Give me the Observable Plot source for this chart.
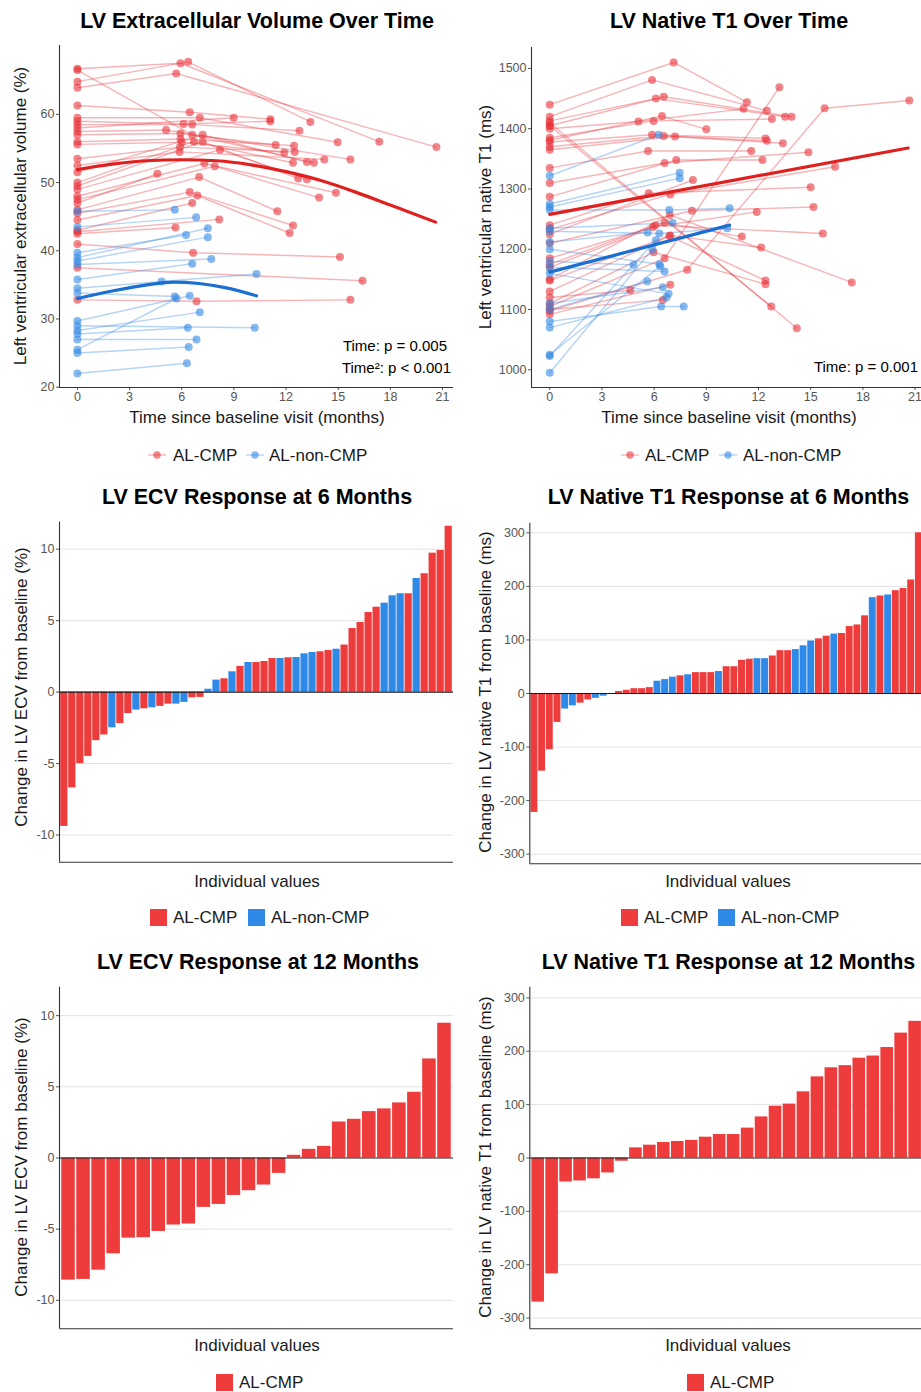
<!DOCTYPE html>
<html><head><meta charset="utf-8">
<script src="https://cdn.jsdelivr.net/npm/d3@7"></script>
<script src="https://cdn.jsdelivr.net/npm/@observablehq/plot@0.6"></script>
<style>
html,body{margin:0;padding:0;background:#fff;overflow:hidden;width:921px;height:1392px;}
#page{position:relative;width:921px;height:1392px;overflow:hidden;font-family:"Liberation Sans",Arial,Helvetica,sans-serif;}
.t{position:absolute;white-space:nowrap;line-height:1;}
#page svg{position:absolute;}
</style></head><body><div id="page"></div>
<script>
// ---------------- DATA ----------------
const groupNames = ["AL-CMP", "AL-non-CMP"];
const monthTicks = [0, 3, 6, 9, 12, 15, 18, 21];
const ecvTicks = [20, 30, 40, 50, 60];
const t1Ticks = [1000, 1100, 1200, 1300, 1400, 1500];

// LV ECV over time: each patient = visits [months, ECV %]
const ecvCmpPatients = [
  [[0,66.7],[5.93,67.5],[17.36,56.0]],
  [[0,64.8],[6.37,67.7],[13.4,58.9]],
  [[0,63.9],[5.68,66.0],[20.65,55.2]],
  [[0,61.3],[6.46,60.3],[11.1,59.3]],
  [[0,59.5],[7.04,59.5],[14.97,55.9]],
  [[0,59.0],[6.1,58.6],[11.09,59.0]],
  [[0,58.5],[6.6,58.5],[12.77,57.6]],
  [[0,58.0],[8.99,59.5]],
  [[0,57.5],[5.1,57.7],[15.7,53.4]],
  [[0,57.0],[5.93,57.2],[11.4,55.5]],
  [[0,56.0],[5.93,56.4],[12.46,55.4]],
  [[0,55.6],[6.0,55.9],[11.9,54.4]],
  [[0,53.5],[5.9,55.2],[12.5,54.5]],
  [[0,52.5],[5.87,54.5],[14.2,53.4]],
  [[0,66.5],[6.6,57.0],[13.6,52.9]],
  [[0,51.5],[7.2,57.0],[13.2,53.0]],
  [[0,50.0],[6.7,56.0],[12.4,52.9]],
  [[0,49.5],[7.2,56.0],[12.7,50.6]],
  [[0,49.0],[8.2,54.8],[13.2,50.5]],
  [[0,48.0],[7.3,52.8],[14.87,48.5]],
  [[0,47.5],[7.9,52.4],[13.9,47.8]],
  [[0,47.0],[4.6,51.3]],
  [[0,46.0],[7.0,50.8],[11.5,45.8]],
  [[0,45.5],[6.46,48.6],[12.4,43.7]],
  [[0,44.5],[6.9,48.1],[12.2,42.6]],
  [[0,43.0],[6.6,47.0]],
  [[0,42.5],[5.64,43.4]],
  [[0,42.8],[8.16,44.6]],
  [[0,41.0],[6.65,39.7],[15.1,39.1]],
  [[0,37.5],[16.4,35.6]],
  [[0,32.8],[6.85,32.6],[15.7,32.8]]
];
const ecvNonCmpPatients = [
  [[0,45.8],[5.6,46.0]],
  [[0,43.5],[6.83,44.9]],
  [[0,39.7],[6.25,42.3]],
  [[0,39.0],[7.5,43.3]],
  [[0,38.5],[7.5,42.0]],
  [[0,38.0],[7.7,38.8]],
  [[0,35.8],[6.6,38.1]],
  [[0,34.5],[4.84,35.5],[10.3,36.6]],
  [[0,33.8],[5.6,33.3]],
  [[0,29.7],[6.46,33.4]],
  [[0,29.0],[10.2,28.7]],
  [[0,28.3],[7.04,31.0]],
  [[0,27.8],[6.35,28.7]],
  [[0,27.0],[6.85,27.0]],
  [[0,25.5],[5.7,33.0]],
  [[0,25.0],[6.4,25.9]],
  [[0,22.0],[6.3,23.5]]
];
const ecvCmpTrendMonths = [0, 2, 4, 6, 8, 10, 12, 14, 16, 18, 20.6];
const ecvCmpTrendValues = [51.9, 52.7, 53.2, 53.35, 53.2, 52.6, 51.6, 50.3, 48.6, 46.7, 44.2];
const ecvNonTrendMonths = [0, 2, 4, 5.5, 7, 8.5, 10.3];
const ecvNonTrendValues = [33.0, 34.1, 35.0, 35.4, 35.2, 34.6, 33.4];

// LV native T1 over time: each patient = visits [months, T1 ms]
const t1CmpPatients = [
  [[0,1440],[7.12,1510],[11.33,1444]],
  [[0,1420],[5.88,1481],[12.48,1430]],
  [[0,1413],[6.1,1450],[13.53,1420]],
  [[0,1405],[6.55,1453],[13.9,1420]],
  [[0,1400],[5.1,1412],[11.14,1433]],
  [[0,1385],[5.97,1413],[12.77,1416]],
  [[0,1381],[6.45,1421],[9.0,1399]],
  [[0,1378],[5.88,1390],[12.4,1384]],
  [[0,1370],[6.55,1388],[13.4,1376]],
  [[0,1365],[7.2,1387],[12.48,1380]],
  [[0,1335],[5.65,1363],[11.58,1363]],
  [[0,1310],[6.6,1343],[14.87,1361]],
  [[0,1287],[7.27,1348],[12.23,1348]],
  [[0,1405],[12.73,1105]],
  [[0,1410],[14.2,1069]],
  [[0,1240],[5.69,1293],[15.0,1303]],
  [[0,1233],[6.93,1291],[16.4,1337]],
  [[0,1225],[8.23,1315]],
  [[0,1210],[8.17,1264],[15.16,1270]],
  [[0,1185],[5.93,1237],[11.9,1262]],
  [[0,1175],[6.07,1240],[15.7,1226]],
  [[0,1170],[6.6,1244],[11.04,1221]],
  [[0,1150],[6.9,1257],[17.36,1145]],
  [[0,1148],[6.93,1223],[12.15,1203]],
  [[0,1130],[6.87,1222],[12.4,1148]],
  [[0,1110],[5.97,1195],[12.4,1142]],
  [[0,1105],[6.6,1185],[13.2,1469]],
  [[0,1098],[7.9,1166],[15.8,1434],[20.67,1447]],
  [[0,1092],[6.93,1141]],
  [[0,1120],[4.63,1132]],
  [[0,1100],[6.5,1116]]
];
const t1NonCmpPatients = [
  [[0,1322],[6.26,1390]],
  [[0,1275],[7.47,1327]],
  [[0,1270],[7.47,1318]],
  [[0,1265],[6.87,1265],[10.34,1268]],
  [[0,1235],[7.06,1244]],
  [[0,1230],[6.3,1226],[10.2,1235]],
  [[0,1212],[5.63,1228]],
  [[0,1200],[6.3,1175]],
  [[0,1180],[4.82,1174]],
  [[0,1170],[6.6,1163]],
  [[0,1160],[6.83,1126]],
  [[0,1110],[6.5,1137]],
  [[0,1100],[5.6,1147]],
  [[0,1080],[6.4,1105],[7.7,1105]],
  [[0,1025],[6.35,1172]],
  [[0,1023],[6.1,1215]],
  [[0,995],[5.9,1200]],
  [[0,1070],[6.7,1120]]
];
const t1CmpTrendMonths = [0, 20.6];
const t1CmpTrendValues = [1258, 1368];
const t1NonTrendMonths = [0, 10.34];
const t1NonTrendValues = [1162, 1240];

// Waterfall: change from baseline, sorted; group code C = AL-CMP, N = AL-non-CMP
const ecv6Change = [-9.4,-6.7,-5.0,-4.5,-3.4,-3.0,-2.5,-2.2,-1.5,-1.26,-1.17,-1.1,-1.0,-0.84,-0.84,-0.72,-0.4,-0.37,0.2,0.84,0.93,1.42,1.8,2.07,2.07,2.14,2.35,2.35,2.4,2.42,2.68,2.77,2.82,2.91,3.0,3.29,4.45,4.87,5.57,5.94,6.22,6.74,6.88,6.88,7.95,8.28,9.72,9.91,11.6];
const ecv6Group = ["C","C","C","C","C","C","N","C","C","N","C","N","C","C","N","N","C","C","N","N","C","N","C","N","C","C","C","N","C","N","N","N","C","C","N","C","C","C","C","C","N","N","N","C","N","C","C","C","C"];
const t16Change = [-222,-145,-105,-54,-29,-23,-18,-12,-9,-5,0,3.7,6,9,9,11,23,26,30.5,33,35,39,39,39,41,50,50,62,64,65,65,70,80,80,82,89,98,102,107,111,112,125,128,145,179,182,184,192,196,212,300];
const t16Group = ["C","C","C","C","N","N","C","C","N","N","C","C","C","C","C","C","N","N","N","C","N","C","C","C","N","C","C","C","C","N","N","C","C","C","N","N","N","C","C","N","C","C","C","C","N","C","N","C","C","C","C"];
const ecv12Change = [-8.58,-8.53,-7.88,-6.73,-5.63,-5.6,-5.16,-4.71,-4.64,-3.47,-3.26,-2.63,-2.3,-1.9,-1.08,0.19,0.61,0.82,2.53,2.72,3.26,3.45,3.87,4.62,6.96,9.47];
const t112Change = [-270,-217,-45,-43,-39,-28,-6,19,24,29,31,33,39,44,44,56,77,97,101,124,152,169,173,187,191,207,234,256];
const ecvChangeTicks = [-10, -5, 0, 5, 10];
const t1ChangeTicks = [-300, -200, -100, 0, 100, 200, 300];

// ---------------- STYLE ----------------
const RED = "#E8333A", BLUE = "#3488E2";
const BAR_RED = "#EE3B3B", BAR_BLUE = "#2F89E6";
const TREND_RED = "#E0201E", TREND_BLUE = "#1B6FD1";
const FONT = '"Liberation Sans", Arial, Helvetica, sans-serif';
const page = document.getElementById("page");

function place(svg, left, top) {
  svg.style.left = left + "px";
  svg.style.top = top + "px";
  page.appendChild(svg);
}
function text(str, x, y, o = {}) {
  const d = document.createElement("div");
  d.className = "t";
  d.textContent = str;
  d.style.fontSize = (o.size || 17) + "px";
  d.style.fontWeight = o.bold ? "bold" : "normal";
  d.style.color = o.color || "#1a1a1a";
  d.style.left = x + "px";
  d.style.top = y + "px";
  const tx = o.anchor === "end" ? "-100%" : o.anchor === "start" ? "0" : "-50%";
  d.style.transform = `translate(${tx},-50%)` + (o.rotate ? " rotate(-90deg)" : "");
  page.appendChild(d);
  return d;
}
function flatten(patients, group) {
  const rows = [];
  patients.forEach((p, i) => p.forEach(([t, v]) => rows.push({id: group + i, group, t, v})));
  return rows;
}
function zipTrend(ts, vs) { return ts.map((t, i) => ({t, v: vs[i]})); }

function scatter(o) {
  const cmp = flatten(o.cmp, "C"), non = flatten(o.non, "N");
  return Plot.plot({
    width: 470, height: 370,
    marginLeft: o.ml, marginRight: o.mr, marginTop: o.mt, marginBottom: o.mb,
    style: {fontFamily: FONT, fontSize: "12.5px", color: "#555", background: "none", overflow: "visible"},
    x: {domain: o.xDomain, ticks: monthTicks, tickSize: 3, tickPadding: 2, label: null},
    y: {domain: o.yDomain, ticks: o.yTicks, tickSize: 3, tickPadding: 2, label: null, tickFormat: d => String(d)},
    marks: [
      Plot.line(cmp, {x: "t", y: "v", z: "id", stroke: RED, strokeOpacity: 0.36, strokeWidth: 1.45}),
      Plot.line(non, {x: "t", y: "v", z: "id", stroke: BLUE, strokeOpacity: 0.36, strokeWidth: 1.45}),
      Plot.dot(cmp, {x: "t", y: "v", r: 4, fill: RED, fillOpacity: 0.6, stroke: "none"}),
      Plot.dot(non, {x: "t", y: "v", r: 4, fill: BLUE, fillOpacity: 0.6, stroke: "none"}),
      Plot.line(o.cmpTrend, {x: "t", y: "v", stroke: TREND_RED, strokeWidth: 3.2, curve: "monotone-x"}),
      Plot.line(o.nonTrend, {x: "t", y: "v", stroke: TREND_BLUE, strokeWidth: 3.2, curve: "monotone-x"}),
      Plot.ruleX([o.xDomain[0]], {stroke: "#333", strokeWidth: 1.1}),
      Plot.ruleY([o.yDomain[0]], {stroke: "#333", strokeWidth: 1.1})
    ]
  });
}

function waterfall(values, groups, o) {
  const rows = values.map((v, i) => ({i: i + 1, v, g: groups ? groups[i] : "C"}));
  const xDomain = [0.4, values.length + 0.6];
  return Plot.plot({
    width: 470, height: 360,
    marginLeft: o.ml, marginRight: o.mr, marginTop: o.mt, marginBottom: o.mb,
    style: {fontFamily: FONT, fontSize: "12.5px", color: "#555", background: "none", overflow: "visible"},
    x: {domain: xDomain, axis: null},
    y: {domain: o.yDomain, ticks: o.yTicks, tickSize: 3, tickPadding: 2, label: null, tickFormat: d => String(d)},
    color: {domain: ["C", "N"], range: [BAR_RED, BAR_BLUE]},
    marks: [
      Plot.ruleY(o.yTicks.filter(d => d !== 0), {stroke: "#e2e2e2", strokeWidth: 1}),
      Plot.rectY(rows, {x1: d => d.i - 0.45, x2: d => d.i + 0.45, y1: 0, y2: "v", fill: "g"}),
      Plot.ruleY([0], {stroke: "#1a1a1a", strokeWidth: 1.1}),
      Plot.ruleY([o.yDomain[0]], {stroke: "#333", strokeWidth: 1.1}),
      Plot.ruleX([xDomain[0]], {stroke: "#333", strokeWidth: 1.1})
    ]
  });
}

function lineLegend(y, items) {
  for (const it of items) {
    const s = d3.create("svg").attr("width", 20).attr("height", 12)
      .style("left", (it.x - 10) + "px").style("top", (y - 6) + "px");
    s.append("line").attr("x1", 1).attr("x2", 19).attr("y1", 6).attr("y2", 6)
      .attr("stroke", it.color).attr("stroke-opacity", 0.36).attr("stroke-width", 1.45);
    s.append("circle").attr("cx", 10).attr("cy", 6).attr("r", 3.7).attr("fill", it.color).attr("fill-opacity", 0.6);
    page.appendChild(s.node());
    text(it.label, it.tx, y, {anchor: "start", size: 17});
  }
}
function boxLegend(y, items) {
  for (const it of items) {
    const s = d3.create("svg").attr("width", 17).attr("height", 17)
      .style("left", (it.x - 8.5) + "px").style("top", (y - 8.5) + "px");
    s.append("rect").attr("width", 17).attr("height", 17).attr("fill", it.color);
    page.appendChild(s.node());
    text(it.label, it.tx, y, {anchor: "start", size: 17});
  }
}

// ---------------- TOP ROW ----------------
place(scatter({
  cmp: ecvCmpPatients, non: ecvNonCmpPatients,
  cmpTrend: zipTrend(ecvCmpTrendMonths, ecvCmpTrendValues),
  nonTrend: zipTrend(ecvNonTrendMonths, ecvNonTrendValues),
  xDomain: [-1.03, 21.63], yDomain: [19.95, 70.1], yTicks: ecvTicks,
  ml: 59, mr: 17, mt: 5, mb: 23
}), 0, 40);
place(scatter({
  cmp: t1CmpPatients, non: t1NonCmpPatients,
  cmpTrend: zipTrend(t1CmpTrendMonths, t1CmpTrendValues),
  nonTrend: zipTrend(t1NonTrendMonths, t1NonTrendValues),
  xDomain: [-1.05, 21.6], yDomain: [970.6, 1534.8], yTicks: t1Ticks,
  ml: 61, mr: 15, mt: 7, mb: 23
}), 470, 40);

text("LV Extracellular Volume Over Time", 257, 22, {size: 21.5, bold: true, color: "#000"});
text("LV Native T1 Over Time", 729, 22, {size: 21.5, bold: true, color: "#000"});
text("Left ventricular extracellular volume (%)", 20, 216, {rotate: true});
text("Left ventricular native T1 (ms)", 485, 217, {rotate: true});
text("Time since baseline visit (months)", 257, 416.5);
text("Time since baseline visit (months)", 729, 416.5);
text("Time: p = 0.005", 447, 345, {anchor: "end", size: 15, color: "#000"});
text("Time\u00b2: p < 0.001", 451, 367, {anchor: "end", size: 15, color: "#000"});
text("Time: p = 0.001", 918, 366, {anchor: "end", size: 15, color: "#000"});
lineLegend(455, [
  {x: 157, tx: 173, color: RED, label: groupNames[0]},
  {x: 255, tx: 269, color: BLUE, label: groupNames[1]}
]);
lineLegend(455, [
  {x: 630, tx: 645, color: RED, label: groupNames[0]},
  {x: 728, tx: 743, color: BLUE, label: groupNames[1]}
]);

// ---------------- MIDDLE ROW ----------------
place(waterfall(ecv6Change, ecv6Group, {
  yDomain: [-11.9, 11.9], yTicks: ecvChangeTicks, ml: 59, mr: 17, mt: 6.5, mb: 13.3
}), 0, 515);
place(waterfall(t16Change, t16Group, {
  yDomain: [-318, 318], yTicks: t1ChangeTicks, ml: 59.3, mr: 17, mt: 7.7, mb: 11.7
}), 470, 515);
text("LV ECV Response at 6 Months", 257, 498, {size: 21.5, bold: true, color: "#000"});
text("LV Native T1 Response at 6 Months", 728.5, 498, {size: 21.5, bold: true, color: "#000"});
text("Change in LV ECV from baseline (%)", 21, 687, {rotate: true});
text("Change in LV native T1 from baseline (ms)", 485, 692, {rotate: true});
text("Individual values", 257, 881);
text("Individual values", 728, 881);
boxLegend(917, [
  {x: 158, tx: 173, color: BAR_RED, label: groupNames[0]},
  {x: 256, tx: 271, color: BAR_BLUE, label: groupNames[1]}
]);
boxLegend(917, [
  {x: 629, tx: 644, color: BAR_RED, label: groupNames[0]},
  {x: 726, tx: 741, color: BAR_BLUE, label: groupNames[1]}
]);

// ---------------- BOTTOM ROW ----------------
place(waterfall(ecv12Change, null, {
  yDomain: [-12, 12], yTicks: ecvChangeTicks, ml: 59, mr: 17, mt: 6.7, mb: 11.7
}), 0, 980);
place(waterfall(t112Change, null, {
  yDomain: [-320, 320], yTicks: t1ChangeTicks, ml: 59.3, mr: 17, mt: 6.7, mb: 11.7
}), 470, 980);
text("LV ECV Response at 12 Months", 258, 963, {size: 21.5, bold: true, color: "#000"});
text("LV Native T1 Response at 12 Months", 728.5, 963, {size: 21.5, bold: true, color: "#000"});
text("Change in LV ECV from baseline (%)", 21, 1157, {rotate: true});
text("Change in LV native T1 from baseline (ms)", 485, 1157, {rotate: true});
text("Individual values", 257, 1345);
text("Individual values", 728, 1345);
boxLegend(1382, [{x: 224, tx: 239, color: BAR_RED, label: groupNames[0]}]);
boxLegend(1382, [{x: 695, tx: 710, color: BAR_RED, label: groupNames[0]}]);
</script></body></html>
